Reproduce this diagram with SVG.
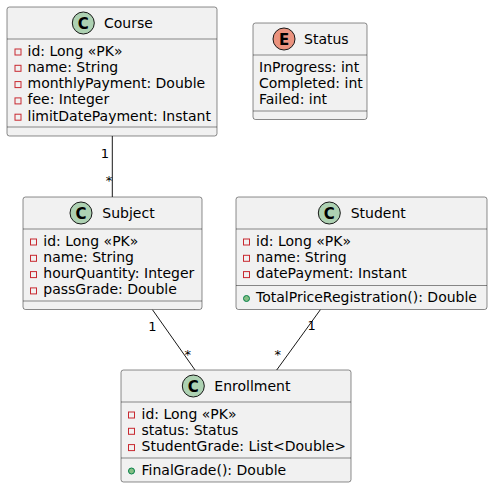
<svg xmlns="http://www.w3.org/2000/svg" width="492" height="488" viewBox="0 0 492 488">
<style>
.box{fill:#F1F1F1;stroke:#181818;stroke-width:0.5}
.sep{stroke:#181818;stroke-width:0.5}
.t{font-family:"DejaVu Sans",Verdana,sans-serif;font-size:14px;fill:#000}
.lbl{font-family:"DejaVu Sans",Verdana,sans-serif;font-size:13px;fill:#000}
.cc{fill:#ADD1B2;stroke:#181818;stroke-width:1}
.ce{fill:#EB937F;stroke:#181818;stroke-width:1}
.letter{font-family:"DejaVu Sans",Verdana,sans-serif;font-size:15px;font-weight:bold;fill:#000;text-anchor:middle}
.priv{fill:none;stroke:#C82930;stroke-width:1}
.pub{fill:#84BE84;stroke:#038048;stroke-width:1}
.edge{stroke:#181818;stroke-width:1;fill:none}
</style>
<g id="connectors">
<line class="edge" x1="112.3" y1="136" x2="112.3" y2="197"/>
<text class="lbl" x="105" y="157.5" text-anchor="middle">1</text>
<text class="lbl" x="109" y="185" text-anchor="middle">*</text>
<line class="edge" x1="152.3" y1="309.5" x2="195" y2="370"/>
<text class="lbl" x="152.3" y="330.5" text-anchor="middle">1</text>
<text class="lbl" x="187.7" y="359" text-anchor="middle">*</text>
<line class="edge" x1="320.5" y1="309.5" x2="276.7" y2="370"/>
<text class="lbl" x="311.7" y="330" text-anchor="middle">1</text>
<text class="lbl" x="277.7" y="359" text-anchor="middle">*</text>
</g>
<g id="Course">
<rect class="box" x="7" y="7" width="210" height="129" rx="2.5"/>
<circle class="cc" cx="83.3" cy="23" r="11"/>
<text class="letter" x="83.3" y="28.5">C</text>
<text class="t" x="104" y="28">Course</text>
<line class="sep" x1="7" y1="39" x2="217" y2="39"/>
<rect class="priv" x="15" y="49" width="6" height="6"/>
<text class="t" x="27.5" y="55.5">id: Long «PK»</text>
<rect class="priv" x="15" y="65.3" width="6" height="6"/>
<text class="t" x="27.5" y="71.8">name: String</text>
<rect class="priv" x="15" y="81.6" width="6" height="6"/>
<text class="t" x="27.5" y="88.1">monthlyPayment: Double</text>
<rect class="priv" x="15" y="97.9" width="6" height="6"/>
<text class="t" x="27.5" y="104.4">fee: Integer</text>
<rect class="priv" x="15" y="114.2" width="6" height="6"/>
<text class="t" x="27.5" y="120.7">limitDatePayment: Instant</text>
<line class="sep" x1="7" y1="127" x2="217" y2="127"/>
</g>
<g id="Status">
<rect class="box" x="253" y="23" width="114" height="96.5" rx="2.5"/>
<circle class="ce" cx="284" cy="39" r="11"/>
<text class="letter" x="284" y="44.5">E</text>
<text class="t" x="304" y="44">Status</text>
<line class="sep" x1="253" y1="55" x2="367" y2="55"/>
<text class="t" x="259" y="71.5">InProgress: int</text>
<text class="t" x="259" y="87.8">Completed: int</text>
<text class="t" x="259" y="104.1">Failed: int</text>
<line class="sep" x1="253" y1="111" x2="367" y2="111"/>
</g>
<g id="Subject">
<rect class="box" x="23" y="197" width="179" height="112.5" rx="2.5"/>
<circle class="cc" cx="81" cy="213" r="11"/>
<text class="letter" x="81" y="218.5">C</text>
<text class="t" x="102.3" y="218">Subject</text>
<line class="sep" x1="23" y1="229" x2="202" y2="229"/>
<rect class="priv" x="30.5" y="239" width="6" height="6"/>
<text class="t" x="43.3" y="245.5">id: Long «PK»</text>
<rect class="priv" x="30.5" y="255.3" width="6" height="6"/>
<text class="t" x="43.3" y="261.8">name: String</text>
<rect class="priv" x="30.5" y="271.6" width="6" height="6"/>
<text class="t" x="43.3" y="278.1">hourQuantity: Integer</text>
<rect class="priv" x="30.5" y="287.9" width="6" height="6"/>
<text class="t" x="43.3" y="294.4">passGrade: Double</text>
<line class="sep" x1="23" y1="301" x2="202" y2="301"/>
</g>
<g id="Student">
<rect class="box" x="236" y="197" width="251" height="112.5" rx="2.5"/>
<circle class="cc" cx="329.3" cy="213" r="11"/>
<text class="letter" x="329.3" y="218.5">C</text>
<text class="t" x="350.7" y="218">Student</text>
<line class="sep" x1="236" y1="229" x2="487" y2="229"/>
<rect class="priv" x="243.5" y="239" width="6" height="6"/>
<text class="t" x="256" y="245.5">id: Long «PK»</text>
<rect class="priv" x="243.5" y="255.3" width="6" height="6"/>
<text class="t" x="256" y="261.8">name: String</text>
<rect class="priv" x="243.5" y="271.6" width="6" height="6"/>
<text class="t" x="256" y="278.1">datePayment: Instant</text>
<line class="sep" x1="236" y1="285.5" x2="487" y2="285.5"/>
<circle class="pub" cx="246.5" cy="298.5" r="3"/>
<text class="t" x="256" y="302">TotalPriceRegistration(): Double</text>
</g>
<g id="Enrollment">
<rect class="box" x="121" y="370" width="230" height="112" rx="2.5"/>
<circle class="cc" cx="193.3" cy="386" r="11"/>
<text class="letter" x="193.3" y="391.5">C</text>
<text class="t" x="214.3" y="391">Enrollment</text>
<line class="sep" x1="121" y1="402" x2="351" y2="402"/>
<rect class="priv" x="128.5" y="412" width="6" height="6"/>
<text class="t" x="141.5" y="418.5">id: Long «PK»</text>
<rect class="priv" x="128.5" y="428.3" width="6" height="6"/>
<text class="t" x="141.5" y="434.8">status: Status</text>
<rect class="priv" x="128.5" y="444.6" width="6" height="6"/>
<text class="t" x="141.5" y="451.1">StudentGrade: List&lt;Double&gt;</text>
<line class="sep" x1="121" y1="458" x2="351" y2="458"/>
<circle class="pub" cx="131.5" cy="471" r="3"/>
<text class="t" x="141.5" y="474.5">FinalGrade(): Double</text>
</g>
</svg>
